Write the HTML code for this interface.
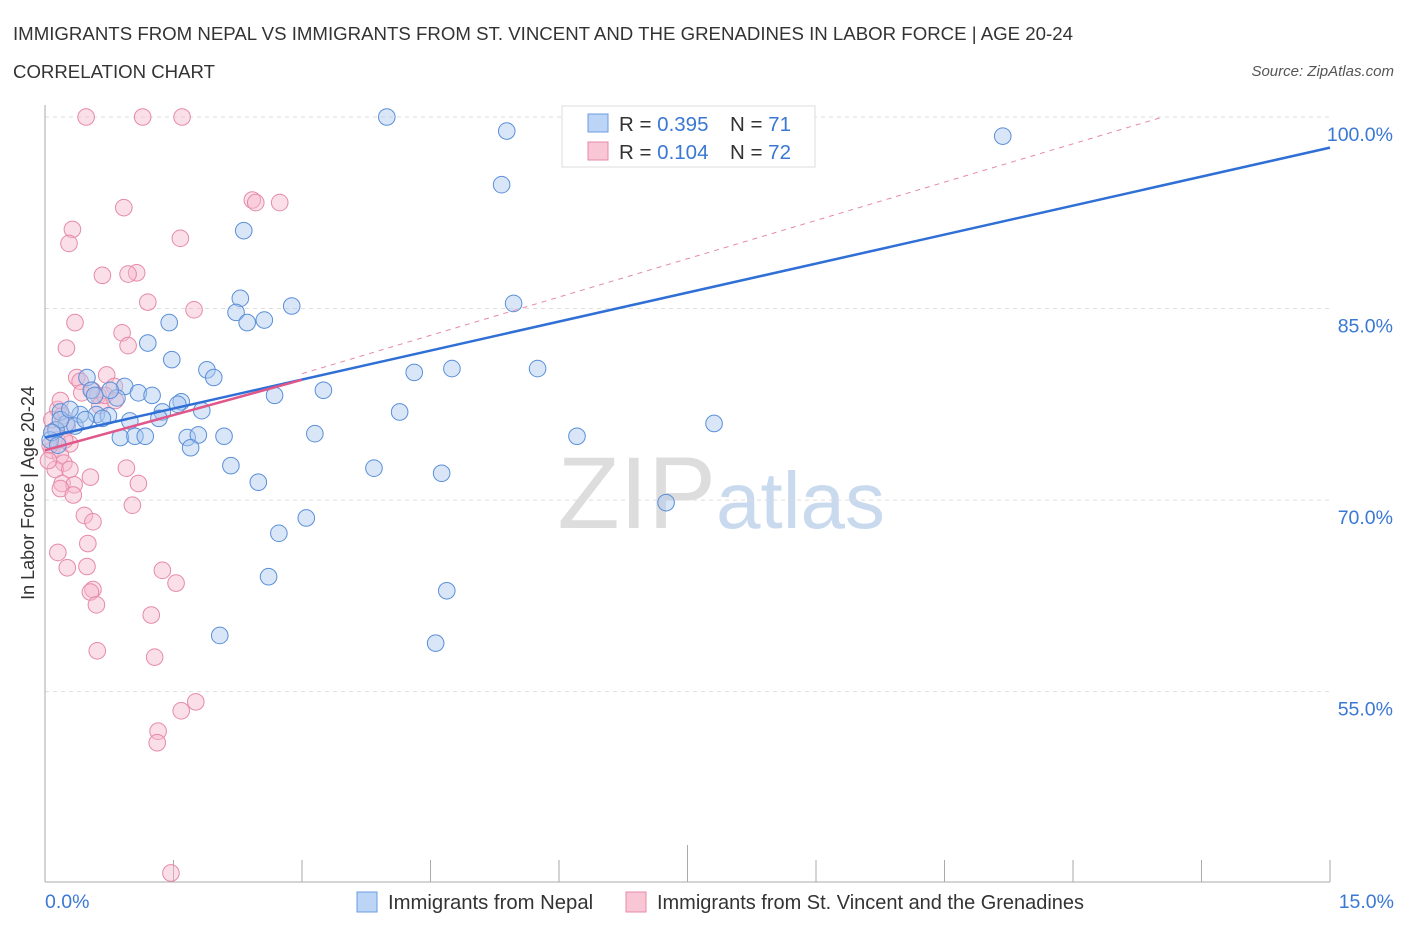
<!DOCTYPE html>
<html><head><meta charset="utf-8">
<style>
body{margin:0;background:#fff;font-family:"Liberation Sans",sans-serif;}
svg text{font-family:"Liberation Sans",sans-serif;}
</style></head>
<body>
<svg id="chart" width="1406" height="930">
<text x="13" y="40" font-size="18" fill="#333" textLength="1060" lengthAdjust="spacingAndGlyphs">IMMIGRANTS FROM NEPAL VS IMMIGRANTS FROM ST. VINCENT AND THE GRENADINES IN LABOR FORCE | AGE 20-24</text>
<text x="13" y="78" font-size="18" fill="#333" textLength="202" lengthAdjust="spacingAndGlyphs">CORRELATION CHART</text>
<text x="1394" y="76" font-size="15" fill="#555" font-style="italic" text-anchor="end">Source: ZipAtlas.com</text>
<text x="716" y="528" font-size="102" fill="#ddd" font-family="Liberation Serif" text-anchor="end">ZIP</text>
<text x="716" y="528" font-size="80" fill="#c9d9ee">atlas</text>
<g id="grid"></g><g id="axes"></g><g id="marks"></g>
<text transform="translate(34,493) rotate(-90)" font-size="18" fill="#333" text-anchor="middle">In Labor Force | Age 20-24</text>
<text x="45" y="908" font-size="19.5" fill="#3a78d4">0.0%</text>
<text x="1394" y="908" font-size="19.5" fill="#3a78d4" text-anchor="end">15.0%</text>
<g>
<rect x="562" y="106" width="253" height="61" fill="#fff" stroke="#ddd"/>
<rect x="588" y="114" width="20" height="18" fill="#bcd4f5" stroke="#6a9be0"/>
<rect x="588" y="142" width="20" height="18" fill="#f9c6d6" stroke="#e58aa8"/>
<text x="619" y="131" font-size="20.5" fill="#333">R = <tspan fill="#3a78d4">0.395</tspan></text>
<text x="730" y="131" font-size="20.5" fill="#333">N = <tspan fill="#3a78d4">71</tspan></text>
<text x="619" y="159" font-size="20.5" fill="#333">R = <tspan fill="#3a78d4">0.104</tspan></text>
<text x="730" y="159" font-size="20.5" fill="#333">N = <tspan fill="#3a78d4">72</tspan></text>
</g>
<g>
<rect x="357" y="892" width="20" height="20" fill="#bcd4f5" stroke="#6a9be0"/>
<text x="388" y="909" font-size="20.3" fill="#333">Immigrants from Nepal</text></g>
<g>
<rect x="626" y="892" width="20" height="20" fill="#f9c6d6" stroke="#e58aa8"/>
<text x="657" y="909" font-size="20.3" fill="#333" textLength="427" lengthAdjust="spacingAndGlyphs">Immigrants from St. Vincent and the Grenadines</text></g>
</svg>
<script>
const yTicks=[100,85,70,55];
const yTickLabels=["100.0%","85.0%","70.0%","55.0%"];
const xTicks=[0,1.5,3,4.5,6,7.5,9,10.5,12,13.5,15];
const nepalX=[3.99,5.39,11.18,5.33,2.32,5.47,2.88,2.28,2.23,2.56,2.36,1.45,1.20,1.48,1.89,1.97,4.31,4.75,5.75,3.25,2.68,0.93,1.09,1.25,0.84,1.59,1.55,0.49,0.54,1.83,1.37,1.33,0.60,0.74,0.67,0.41,0.18,0.25,0.99,0.35,4.14,7.81,0.88,1.05,1.17,1.66,1.79,2.09,3.15,6.21,1.70,0.13,0.06,2.17,3.84,4.63,2.49,7.25,3.05,2.73,2.61,4.69,2.04,4.56,0.18,0.76,0.29,0.08,0.47,0.58,0.15];
const nepalY=[100,98.9,98.5,94.7,91.1,85.4,85.2,85.8,84.7,84.1,83.9,83.9,82.3,81.0,80.2,79.6,80.0,80.3,80.3,78.6,78.2,78.9,78.4,78.2,78.0,77.7,77.5,79.6,78.6,77.0,76.9,76.4,76.7,76.6,76.4,76.7,76.9,76.0,76.2,75.8,76.9,76.0,74.9,75.0,75.0,74.9,75.1,75.0,75.2,75.0,74.1,75.5,74.7,72.7,72.5,72.1,71.4,69.8,68.6,67.4,64.0,62.9,59.4,58.8,76.3,78.6,77.1,75.3,76.3,78.2,74.3];
const vincentX=[0.48,1.14,1.60,2.74,2.42,2.46,0.92,0.32,0.28,1.58,0.67,1.07,0.97,1.20,1.74,0.35,0.90,0.97,0.25,0.37,0.41,0.72,0.81,0.43,0.62,0.55,0.64,0.15,0.20,0.26,0.14,0.29,0.08,0.18,0.22,0.12,0.95,1.09,0.53,0.20,0.34,0.18,0.33,1.02,0.46,0.56,0.50,0.15,0.49,0.26,1.37,1.53,0.56,0.53,0.60,1.24,0.61,1.28,1.76,1.59,1.32,1.31,1.47,0.12,0.06,0.04,0.18,0.70,0.82,0.08,0.23,0.29];
const vincentY=[100,100,100,93.3,93.5,93.3,92.9,91.2,90.1,90.5,87.6,87.8,87.7,85.5,84.9,83.9,83.1,82.1,81.9,79.6,79.3,79.8,78.9,78.4,78.2,78.6,77.4,77.1,76.6,75.8,74.7,74.4,73.9,73.5,72.9,72.4,72.5,71.3,71.8,71.3,71.2,70.9,70.4,69.6,68.8,68.3,66.6,65.9,64.8,64.7,64.5,63.5,63.0,62.8,61.8,61.0,58.2,57.7,54.2,53.5,51.9,51.0,40.8,75.5,74.3,73.1,77.8,78.2,77.8,76.3,74.7,72.4];
const nepalTrend=[74.9,97.6];
const vincentTrend=[73.9,79.9];
const NS="http://www.w3.org/2000/svg";
const X=v=>45+v*(1285/15);
const Y=v=>117+(100-v)*12.77;
function mk(tag,at,parent){const e=document.createElementNS(NS,tag);for(const k in at)e.setAttribute(k,at[k]);parent.appendChild(e);return e;}
const grid=document.getElementById('grid'),axes=document.getElementById('axes'),marks=document.getElementById('marks');
yTicks.forEach((t,i)=>{
 const l=mk('line',{x1:45,x2:1330,y1:Y(t),y2:Y(t),stroke:'#ddd','stroke-dasharray':'4,4'},grid);
 
 
 const tx=mk('text',{x:1393,y:Y(t)+24,'font-size':19.5,fill:'#3a78d4','text-anchor':'end'},grid);
 tx.textContent=yTickLabels[i];
 
 
});
const ax=mk('line',{x1:45,x2:1330,y1:882,y2:882,stroke:'#aaa'},axes);


const ay=mk('line',{x1:45,x2:45,y1:105,y2:882,stroke:'#aaa'},axes);


xTicks.forEach((t,i)=>{
 const l=mk('line',{x1:X(t),x2:X(t),y1:i==5?845:860,y2:882,stroke:'#aaa'},axes);
 
 
});
function dots(xs,ys,fill,stroke,name){
 xs.forEach((x,i)=>{
  const c=mk('circle',{cx:X(x),cy:Y(ys[i]),r:8.3,fill:fill,'fill-opacity':0.45,stroke:stroke,'stroke-width':1},marks);
  
  
 });
}
dots(vincentX,vincentY,'#f7b8cc','#e58aa8','vincent-point');
dots(nepalX,nepalY,'#a9c8f0','#5b8fd8','nepal-point');
const slope=(vincentTrend[1]-vincentTrend[0])/3;
const xEnd=(100-vincentTrend[0])/slope;
const d=mk('line',{x1:X(3),y1:Y(vincentTrend[1]),x2:X(xEnd),y2:Y(100),stroke:'#e58aa8','stroke-dasharray':'5,5','stroke-width':1},marks);


const bl=mk('line',{x1:X(0),y1:Y(nepalTrend[0]),x2:X(15),y2:Y(nepalTrend[1]),stroke:'#2f6fd6','stroke-width':2.5},marks);


const pl=mk('line',{x1:X(0),y1:Y(vincentTrend[0]),x2:X(3),y2:Y(vincentTrend[0]+slope*3*0.92)},marks);
pl.setAttribute('stroke','#e0578a');
pl.setAttribute('stroke-width','2.5');


</script>
</body></html>
